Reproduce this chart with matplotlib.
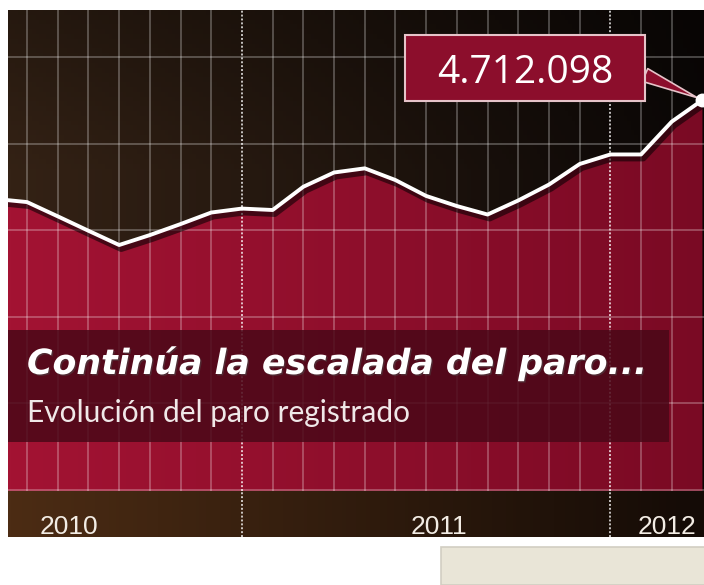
import numpy as np
import matplotlib.pyplot as plt
from matplotlib import patheffects as pe
from matplotlib.patches import Rectangle

# meses: 0 = linea punteada de 2011, 12 = linea punteada de 2012
meses = np.arange(-8, 16)
# paro registrado (miles de personas)
paro = [4163, 4146, 4067, 3987, 3908, 3963, 4024, 4088, 4110, 4102, 4231, 4310,
        4333, 4268, 4180, 4124, 4077, 4155, 4243, 4357, 4410, 4410, 4592, 4712]
etiqueta = "4.712.098"
anios = ["2010", "2011", "2012"]
pos_anios = [-6.6, 5.5, 12.9]
cortes_anio = [0, 12]
rejilla_y = [2550, 3030, 3510, 3990, 4470, 4950]

W, H = 704, 585
fig = plt.figure(figsize=(W / 100, H / 100), dpi=100)
fig.patch.set_facecolor("white")

def fx(x):
    return x / W

def fy(y):
    return (H - y) / H

xlim = (-7.62, 15.05)
ylim = (2544, 5211)

# zona principal del grafico
ax = fig.add_axes([fx(8), fy(491), (704 - 8) / W, (491 - 10) / H])
ax.set_xlim(xlim)
ax.set_ylim(ylim)
ax.set_axis_off()

# fondo oscuro degradado
t = np.linspace(0, 1, 200)
v = np.linspace(0, 1, 100)[:, None]
izq = np.array([0x34, 0x22, 0x15]) / 255
der = np.array([0x0b, 0x07, 0x06]) / 255
fondo = izq[None, None, :] * (1 - t[None, :, None]) + der[None, None, :] * t[None, :, None]
fondo = fondo * (0.72 + 0.28 * np.clip(v * 3, 0, 1))[:, :, None]
ax.imshow(fondo, extent=[*xlim, *ylim], aspect="auto", zorder=0, origin="upper")

# relleno rojo con degradado
relleno = ax.fill_between(meses, paro, ylim[0], color="none", zorder=1)
rizq = np.array([0xa3, 0x13, 0x33]) / 255
rder = np.array([0x7a, 0x0a, 0x24]) / 255
rojo = rizq[None, None, :] * (1 - t[None, :, None]) + rder[None, None, :] * t[None, :, None]
rojo = np.repeat(rojo, 2, axis=0)
img = ax.imshow(rojo, extent=[*xlim, *ylim], aspect="auto", zorder=1)
img.set_clip_path(relleno.get_paths()[0], transform=ax.transData)

# rejilla
normales = [m for m in range(-7, 15) if m not in cortes_anio]
ax.vlines(normales, *ylim, color="white", alpha=0.28, lw=1.3, zorder=3)
ax.hlines(rejilla_y, *xlim, color="white", alpha=0.28, lw=1.3, zorder=3)
ax.vlines(cortes_anio, *ylim, color="white", alpha=0.75, lw=1.4,
          linestyles=(0, (1, 1)), zorder=3)

# linea de evolucion
ax.plot(meses, paro, color="white", lw=2.8, zorder=5, solid_joinstyle="round",
        path_effects=[pe.SimpleLineShadow(offset=(1.5, -2.5), shadow_color="black",
                                          alpha=0.55, linewidth=5), pe.Normal()])
ax.plot(meses[-1], paro[-1], "o", ms=9, color="white", zorder=7, clip_on=False)

# pico del globo
ax.annotate("", xy=(meses[-1], paro[-1]), xytext=(645, H - 75), textcoords="figure pixels",
            arrowprops=dict(arrowstyle="wedge,tail_width=1.0,shrink_factor=0.5",
                            fc="#8c0e2c", ec="#e6c3c9", lw=1.2, shrinkA=0, shrinkB=4),
            zorder=6, annotation_clip=False)

# franja inferior con los anios
ax2 = fig.add_axes([fx(8), fy(537), (704 - 8) / W, (537 - 491) / H])
ax2.set_xlim(xlim)
ax2.set_ylim(0, 1)
ax2.set_axis_off()
bizq = np.array([0x4c, 0x2c, 0x14]) / 255
bder = np.array([0x14, 0x0b, 0x06]) / 255
banda = bizq[None, None, :] * (1 - t[None, :, None]) + bder[None, None, :] * t[None, :, None]
ax2.imshow(banda, extent=[*xlim, 0, 1], aspect="auto", zorder=0)
ax2.vlines(cortes_anio, 0, 1, color="white", alpha=0.75, lw=1.4,
           linestyles=(0, (1, 1)), zorder=2)
for a, p in zip(anios, pos_anios):
    ax2.text(p, (537 - 515) / 46, a, ha="left", va="top", color="#f2ece4",
             fontsize=19, family="Liberation Sans", clip_on=True)

# caja del titulo
fig.add_artist(Rectangle((fx(8), fy(442)), (669 - 8) / W, (442 - 330) / H,
                         transform=fig.transFigure, fc="#4a0818", alpha=0.85,
                         lw=0, zorder=8))
fig.text(fx(27), fy(374), "Continúa la escalada del paro...", color="white",
         fontsize=25, weight="bold", style="italic", va="baseline", zorder=9,
         path_effects=[pe.withSimplePatchShadow(offset=(1, -1), alpha=0.5)])
fig.text(fx(27), fy(422), "Evolución del paro registrado", color="#f0e8e8",
         fontsize=21.5, family="Lato", va="baseline", zorder=9)

# globo con la cifra
fig.add_artist(Rectangle((fx(405), fy(101)), 240 / W, 66 / H,
                         transform=fig.transFigure, fc="#8c0e2c", ec="#e6c3c9",
                         lw=1.5, zorder=8))
fig.text(fx(525), fy(83), etiqueta, ha="center", va="baseline", color="white",
         fontsize=28, family="Open Sans", zorder=9)

# recuadro beige inferior
fig.add_artist(Rectangle((fx(441), 0), 300 / W, (585 - 547) / H,
                         transform=fig.transFigure, fc="#e9e5d7", ec="#d2cec2",
                         lw=1.2, zorder=8))

fig.savefig("out.png", dpi=100, facecolor="white")
